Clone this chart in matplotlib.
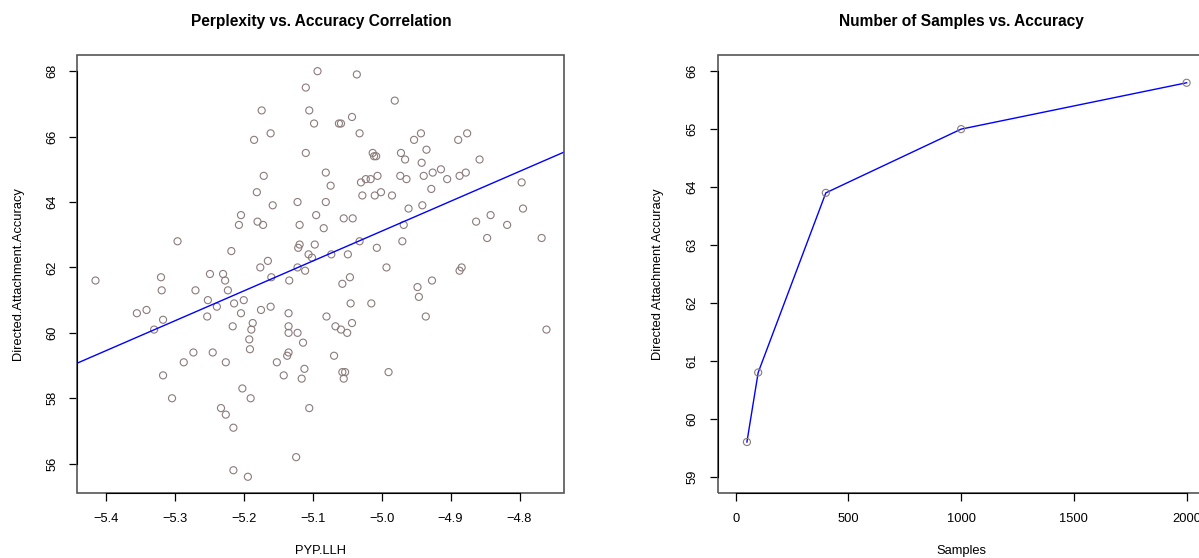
import numpy as np
import matplotlib
matplotlib.use("Agg")
import matplotlib.pyplot as plt
from matplotlib.patches import Rectangle

plt.rcParams['font.family'] = ['Liberation Sans', 'DejaVu Sans']

# left panel: PYP log-likelihood vs accuracy
pyp_llh = [
    -5.296, -5.218,
    -5.093, -5.036, -5.110, -5.174, -5.105, -5.098, -5.062, -5.059, -5.043, -5.161,
    -5.185, -5.032, -5.110, -5.013, -5.011, -5.008, -5.171, -5.081, -5.074, -5.181,
    -5.158, -5.122, -5.081, -5.030, -5.023, -5.016, -5.006, -5.028, -5.010, -5.001,
    -4.985, -5.204, -5.207, -5.180, -5.172, -5.095, -5.119, -5.084, -5.055, -5.042,
    -5.119, -5.121, -5.097, -5.106, -5.101, -5.073, -5.049, -5.032, -5.007, -5.165,
    -5.176, -5.122, -5.111, -4.993,
    -4.981, -4.943, -4.953, -4.876, -4.889, -4.935, -4.972, -4.966, -4.858, -4.942,
    -4.973, -4.964, -4.939, -4.926, -4.914, -4.905, -4.887, -4.878, -4.928, -4.941,
    -4.961, -4.797, -4.795, -4.968, -4.842, -4.863, -4.818, -4.970, -4.847, -4.768,
    -4.884, -4.887,
    -5.415, -5.320, -5.319, -5.249, -5.230, -5.227, -5.223, -5.270, -5.252, -5.239,
    -5.214, -5.355, -5.341, -5.317, -5.330, -5.253, -5.216, -5.273, -5.245, -5.287,
    -5.226, -5.317, -5.304, -5.233, -5.226, -5.215, -5.215,
    -5.160, -5.134, -5.200, -5.204, -5.175, -5.161, -5.135, -5.187, -5.189, -5.135,
    -5.135, -5.122, -5.192, -5.191, -5.114, -5.135, -5.137, -5.152, -5.142, -5.112,
    -5.116, -5.080, -5.067, -5.059, -5.050, -5.043, -5.045, -5.015, -5.057, -5.046,
    -5.069, -5.057, -5.053, -5.055, -4.990, -5.202, -5.190, -5.105, -5.124, -5.194,
    -4.927, -4.948, -4.946, -4.936, -4.761,
]
accuracy = [
    62.8, 62.5,
    68.0, 67.9, 67.5, 66.8, 66.8, 66.4, 66.4, 66.4, 66.6, 66.1,
    65.9, 66.1, 65.5, 65.5, 65.4, 65.4, 64.8, 64.9, 64.5, 64.3,
    63.9, 64.0, 64.0, 64.6, 64.7, 64.7, 64.8, 64.2, 64.2, 64.3,
    64.2, 63.6, 63.3, 63.4, 63.3, 63.6, 63.3, 63.2, 63.5, 63.5,
    62.7, 62.6, 62.7, 62.4, 62.3, 62.4, 62.4, 62.8, 62.6, 62.2,
    62.0, 62.0, 61.9, 62.0,
    67.1, 66.1, 65.9, 66.1, 65.9, 65.6, 65.5, 65.3, 65.3, 65.2,
    64.8, 64.7, 64.8, 64.9, 65.0, 64.7, 64.8, 64.9, 64.4, 63.9,
    63.8, 64.6, 63.8, 63.3, 63.6, 63.4, 63.3, 62.8, 62.9, 62.9,
    62.0, 61.9,
    61.6, 61.7, 61.3, 61.8, 61.8, 61.6, 61.3, 61.3, 61.0, 60.8,
    60.9, 60.6, 60.7, 60.4, 60.1, 60.5, 60.2, 59.4, 59.4, 59.1,
    59.1, 58.7, 58.0, 57.7, 57.5, 57.1, 55.8,
    61.7, 61.6, 61.0, 60.6, 60.7, 60.8, 60.6, 60.3, 60.1, 60.2,
    60.0, 60.0, 59.8, 59.5, 59.7, 59.4, 59.3, 59.1, 58.7, 58.9,
    58.6, 60.5, 60.2, 60.1, 60.0, 60.3, 60.9, 60.9, 61.5, 61.7,
    59.3, 58.8, 58.8, 58.6, 58.8, 58.3, 58.0, 57.7, 56.2, 55.6,
    61.6, 61.4, 61.1, 60.5, 60.1,
]

# right panel: number of samples vs accuracy
samples = [50, 100, 400, 1000, 2000]
samples_acc = [59.6, 60.8, 63.9, 65.0, 65.8]

left_xticks = [-5.4, -5.3, -5.2, -5.1, -5.0, -4.9, -4.8]
left_yticks = [56, 58, 60, 62, 64, 66, 68]
right_xticks = [0, 500, 1000, 1500, 2000]
right_yticks = [59, 60, 61, 62, 63, 64, 65, 66]

PT_COL = '#8c7b7b'
FS = 9.3


def r_lims(lo, hi):
    pad = 0.04 * (hi - lo)
    return lo - pad, hi + pad


def r_style(ax, xticks, yticks, xfmt='%g'):
    # R base graphics look: gray box, black axis line only between end ticks
    for s in ax.spines.values():
        s.set_visible(False)
    ax.add_patch(Rectangle((0, 0), 1, 1, transform=ax.transAxes, fill=False,
                           edgecolor='#555555', lw=1.2, clip_on=False, zorder=5))
    ax.spines['bottom'].set_visible(True)
    ax.spines['left'].set_visible(True)
    ax.spines['bottom'].set_bounds(xticks[0], xticks[-1])
    ax.spines['left'].set_bounds(yticks[0], yticks[-1])
    ax.spines['bottom'].set_zorder(6)
    ax.spines['left'].set_zorder(6)
    ax.set_xticks(xticks)
    ax.set_yticks(yticks)
    ax.set_xticklabels([(xfmt % t).replace('-', '\u2212') for t in xticks])
    ax.set_yticklabels(['%g' % t for t in yticks], rotation=90, va='center')
    ax.tick_params(direction='out', length=6, width=0.9, labelsize=FS, pad=8.5)
    ax.tick_params(axis='y', pad=7.5)


fig = plt.figure(figsize=(11.99, 5.58), dpi=100)
ax1 = fig.add_axes([0.0646, 0.1165, 0.4062, 0.785])
ax2 = fig.add_axes([0.5985, 0.1165, 0.4062, 0.785])

# left scatter + least squares line
x = np.array(pyp_llh)
y = np.array(accuracy)
ax1.scatter(x, y, s=26, facecolors='none', edgecolors=PT_COL, linewidths=0.8, zorder=3)
slope, icept = np.polyfit(x, y, 1)
xl = np.array(r_lims(x.min(), x.max()))
ax1.plot(xl, icept + slope * xl, color='#0000ff', lw=1.0, zorder=4)
ax1.set_xlim(*xl)
ax1.set_ylim(*r_lims(y.min(), y.max()))
r_style(ax1, left_xticks, left_yticks, xfmt='%.1f')
ax1.set_title('Perplexity vs. Accuracy Correlation', fontsize=11.2, fontweight='bold', pad=21)
ax1.set_xlabel('PYP.LLH', fontsize=FS, labelpad=14)
ax1.set_ylabel('Directed.Attachment.Accuracy', fontsize=FS, labelpad=16.5)

# right line plot
ax2.plot(samples, samples_acc, color='#0000ff', lw=1.0, zorder=3)
ax2.scatter(samples, samples_acc, s=26, facecolors='none', edgecolors=PT_COL, linewidths=0.8, zorder=4)
ax2.set_xlim(*r_lims(0, 2000))
ax2.set_ylim(*r_lims(59, 66))
r_style(ax2, right_xticks, right_yticks)
ax2.set_title('Number of Samples vs. Accuracy', fontsize=11.2, fontweight='bold', pad=21)
ax2.set_xlabel('Samples', fontsize=FS, labelpad=14)
ax2.set_ylabel('Directed Attachment Accuracy', fontsize=FS, labelpad=16.5)

fig.savefig('out.png', dpi=100)
